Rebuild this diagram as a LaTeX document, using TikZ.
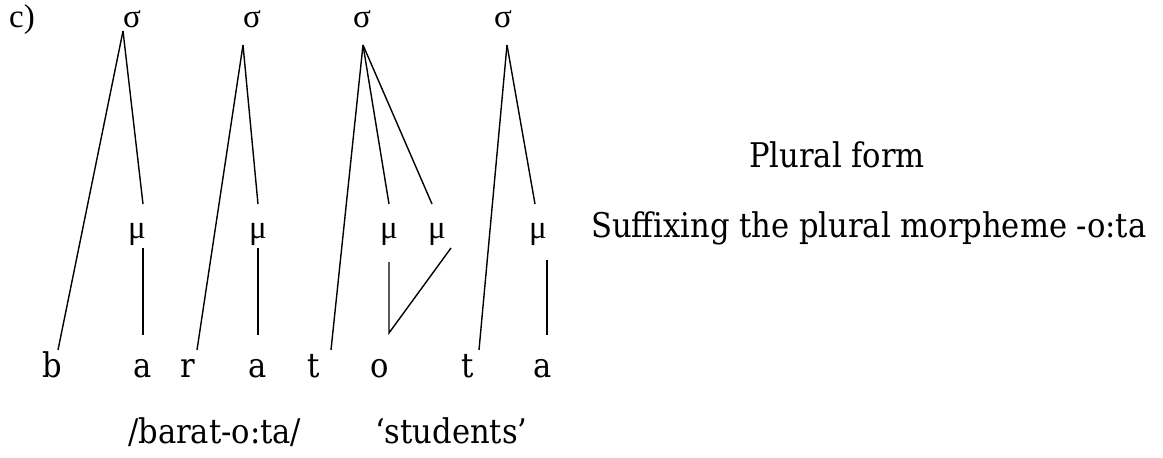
\documentclass[tikz,border=0pt]{standalone}
\usepackage{fontspec}
\setmainfont{DejaVu Serif Condensed}
\newfontfamily\timesfont{Liberation Serif}
\usetikzlibrary{positioning}

\begin{document}
\begin{tikzpicture}[
    x=1pt,
    y=-1pt,
    segment/.style={
        font=\fontsize{34}{40}\selectfont,
        inner sep=0pt,
        anchor=base
    },
    prosody/.style={
        font=\timesfont\fontsize{33}{39}\selectfont,
        inner sep=0pt,
        anchor=base
    },
    gloss/.style={
        font=\fontsize{34}{40}\selectfont,
        inner sep=0pt,
        anchor=base west
    },
    assoc/.style={
        draw=black,
        line width=1.4pt
    }
]
\useasboundingbox (0,0) rectangle (1163,458);

\node[prosody] (label) at (22,27) {c)};

% syllables
\node[prosody] (s1) at (132,27) {σ};
\node[prosody] (s2) at (252,27) {σ};
\node[prosody] (s3) at (362,27) {σ};
\node[prosody] (s4) at (503,27) {σ};

% moras
\node[prosody] (m1) at (137,238) {μ};
\node[prosody] (m2) at (258,238) {μ};
\node[prosody] (m3) at (389,238) {μ};
\node[prosody] (m4) at (437,238) {μ};
\node[prosody] (m5) at (538,238) {μ};

% segments
\node[segment] (b)  at (52,377)  {b};
\node[segment] (a1) at (143,377) {a};
\node[segment] (r)  at (188,377) {r};
\node[segment] (a2) at (258,377) {a};
\node[segment] (t1) at (314,377) {t};
\node[segment] (o)  at (380,377) {o};
\node[segment] (t2) at (468,377) {t};
\node[segment] (a3) at (543,377) {a};

% association lines
\draw[assoc] ([shift={(-9,4)}]s1.base) -- ([shift={(6,-27)}]b.base);
\draw[assoc] ([shift={(-9,4)}]s1.base) -- ([shift={(6,-34)}]m1.base);
\draw[assoc] ([shift={(6,10)}]m1.base) -- ([shift={(0,-42)}]a1.base);

\draw[assoc] ([shift={(-9,18)}]s2.base) -- ([shift={(9,-27)}]r.base);
\draw[assoc] ([shift={(-9,18)}]s2.base) -- ([shift={(0,-34)}]m2.base);
\draw[assoc] ([shift={(0,10)}]m2.base) -- ([shift={(0,-42)}]a2.base);

\draw[assoc] ([shift={(1,18)}]s3.base) -- ([shift={(17,-27)}]t1.base);
\draw[assoc] ([shift={(1,18)}]s3.base) -- ([shift={(0,-34)}]m3.base);
\draw[assoc] ([shift={(1,18)}]s3.base) -- ([shift={(-5,-34)}]m4.base);
\draw[assoc] ([shift={(0,24)}]m3.base) -- ([shift={(9,-44)}]o.base)
    -- ([shift={(14,10)}]m4.base);

\draw[assoc] ([shift={(4,18)}]s4.base) -- ([shift={(11,-27)}]t2.base);
\draw[assoc] ([shift={(4,18)}]s4.base) -- ([shift={(-3,-34)}]m5.base);
\draw[assoc] ([shift={(9,22)}]m5.base) -- ([shift={(4,-42)}]a3.base);

% glosses
\node[gloss] (plural) at (749,167) {Plural form};
\node[gloss] (suffix) at (591,237) {Suffixing the plural morpheme -o:ta};
\node[gloss] (form)   at (128,443) {/barat-o:ta/};
\node[gloss] (mean)   at (375,443) {‘students’};

\end{tikzpicture}
\end{document}
